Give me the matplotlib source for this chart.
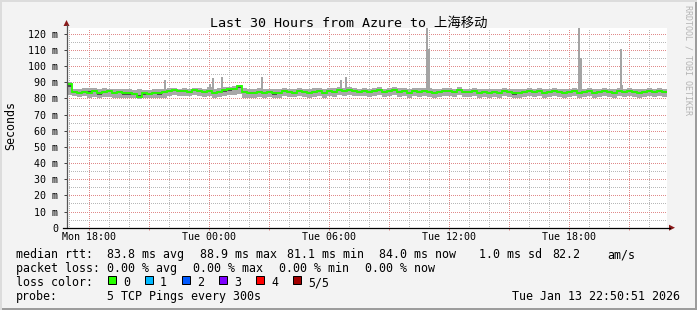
import numpy as np
import matplotlib.pyplot as plt
from matplotlib.patches import Rectangle, Polygon
from matplotlib.lines import Line2D

# time axis: hours since Mon 00:00, one bin = 15 min
start = 16.9
step_h = 0.25

# median rtt (ms) per 15 min bin
med = [88.9, 84.0, 83.5, 84.0, 83.5, 84.5, 83.0, 84.0, 84.5, 83.5, 84.0, 83.0,
       83.0, 82.5, 81.1, 83.0, 82.5, 83.5, 83.0, 84.0, 84.5, 85.0, 84.5, 84.5,
       84.0, 85.0, 84.5, 84.0, 84.5, 83.5, 84.0, 85.0, 85.5, 86.0, 87.5, 84.0,
       83.0, 83.5, 84.0, 83.5, 84.0, 83.0, 83.5, 84.5, 84.0, 83.5, 84.5, 84.0,
       83.5, 84.0, 84.5, 83.5, 84.5, 84.0, 85.0, 84.5, 85.0, 84.5, 84.0, 84.5,
       84.0, 84.5, 85.0, 84.0, 84.5, 85.0, 84.0, 84.5, 83.5, 84.5, 84.0, 84.5,
       84.0, 83.5, 84.0, 84.5, 84.5, 84.0, 85.0, 84.0, 84.0, 84.5, 83.5, 84.0,
       83.5, 84.0, 83.5, 84.5, 84.0, 83.0, 83.5, 84.0, 84.5, 84.0, 84.5, 83.5,
       84.0, 84.5, 84.0, 83.5, 84.0, 84.5, 83.5, 84.0, 84.5, 83.5, 84.0, 84.5,
       84.0, 83.5, 84.5, 84.0, 84.5, 84.0, 83.5, 84.0, 84.5, 84.0, 84.5, 84.0]

# smoke: lowest and highest ping per bin (ms)
lo = [82.0, 81.5, 81.0, 81.5, 80.5, 81.0, 80.0, 81.0, 81.0, 80.5, 80.5, 80.0,
      80.0, 80.0, 79.8, 80.0, 80.0, 80.5, 80.0, 80.5, 81.5, 82.0, 81.5, 81.5,
      81.5, 82.0, 81.5, 81.0, 81.5, 80.5, 81.0, 81.5, 82.0, 82.0, 82.5, 80.5,
      80.5, 80.5, 81.0, 80.5, 81.0, 80.0, 80.5, 81.5, 81.0, 81.0, 81.5, 81.0,
      80.5, 81.0, 81.5, 80.5, 81.5, 81.0, 82.0, 81.5, 82.0, 81.5, 81.5, 81.5,
      81.0, 81.5, 82.0, 81.0, 81.5, 82.0, 81.0, 81.5, 80.5, 81.5, 81.0, 81.5,
      81.0, 80.5, 81.0, 81.5, 81.5, 81.0, 82.0, 81.0, 81.0, 81.5, 80.5, 81.0,
      80.5, 81.0, 80.0, 81.5, 81.0, 80.0, 80.5, 81.0, 81.5, 81.0, 81.5, 80.5,
      81.0, 81.5, 81.0, 80.5, 81.0, 81.5, 80.5, 81.0, 81.5, 80.5, 81.0, 81.5,
      81.0, 80.5, 81.5, 81.0, 81.5, 81.0, 80.5, 81.0, 81.5, 81.0, 81.5, 81.0]
hi = [90.0, 86.0, 86.0, 86.5, 86.5, 86.5, 85.5, 86.5, 86.0, 86.0, 86.0, 85.5,
      85.5, 85.0, 85.5, 85.0, 85.0, 85.5, 85.5, 86.0, 86.5, 86.5, 86.0, 86.5,
      86.0, 86.5, 86.5, 86.0, 87.0, 86.0, 86.5, 87.0, 87.0, 87.5, 88.0, 86.5,
      85.5, 86.0, 86.5, 86.0, 86.0, 85.5, 86.0, 86.5, 86.0, 86.0, 86.5, 86.0,
      86.0, 86.5, 86.5, 85.5, 86.5, 86.5, 87.0, 86.5, 87.0, 86.5, 86.0, 86.5,
      86.0, 86.5, 87.0, 86.0, 86.5, 87.0, 86.5, 86.5, 86.0, 86.5, 86.5, 86.5,
      86.5, 86.0, 86.0, 86.5, 86.5, 86.0, 87.0, 86.0, 86.0, 86.5, 86.0, 86.0,
      85.5, 86.0, 86.0, 86.5, 86.0, 85.5, 86.0, 86.0, 86.5, 86.0, 86.5, 86.0,
      86.0, 86.5, 86.0, 85.5, 86.0, 86.5, 86.0, 86.0, 86.5, 86.0, 86.0, 86.5,
      86.0, 86.0, 86.5, 86.0, 86.5, 86.0, 86.0, 86.0, 86.5, 86.0, 86.5, 86.0]

# single samples where the slowest ping jumped up
spike_t = [21.8, 24.05, 24.2, 24.65, 26.65, 30.6, 30.85, 34.9, 35.0, 42.48, 42.58, 44.58, 44.66]
spike_top = [91.5, 89.0, 92.5, 93.0, 93.5, 91.5, 93.0, 125.0, 110.3, 125.0, 105.0, 110.5, 88.5]

tick_hours = [18, 24, 30, 36, 42]
tick_labels = ["Mon 18:00", "Tue 00:00", "Tue 06:00", "Tue 12:00", "Tue 18:00"]

loss_names = ["0", "1", "2", "3", "4", "5/5"]
loss_colors = ["#26ff00", "#00b8ff", "#0059ff", "#7e00ff", "#ff0000", "#a10000"]

W, H = 697, 310
MONO = "DejaVu Sans Mono"


def fx(x):
    return x / W


def fy(y):
    return 1 - y / H


med = np.array(med)
lo = np.array(lo)
hi = np.array(hi)
edges = start + step_h * np.arange(len(med) + 1)

fig = plt.figure(figsize=(W / 100, H / 100), dpi=100, facecolor="#f3f3f3")

# 3d frame round the picture
fig.add_artist(Rectangle((0, 0), 1, fy(308), transform=fig.transFigure, color="#9c9c9c", lw=0))
fig.add_artist(Rectangle((fx(695), 0), fx(2), 1, transform=fig.transFigure, color="#9c9c9c", lw=0))
fig.add_artist(Rectangle((0, fy(2)), 1, 2 / H, transform=fig.transFigure, color="#dcdcdc", lw=0))
fig.add_artist(Rectangle((0, 0), fx(2), 1, transform=fig.transFigure, color="#dcdcdc", lw=0))

ax = fig.add_axes([fx(67), fy(227.7), fx(600), (227.7 - 28) / H])
ax.set_facecolor("white")
ax.set_xlim(start, start + 30)
ax.set_ylim(0, 123.5)

# grid, 1px dots
dots = (0, (0.6, 1.4))
for h in np.arange(17, 47):
    major = h % 3 == 0
    ax.axvline(h, color="#e08a8a" if major else "#b8b8b8", lw=0.72,
               ls=dots, zorder=0.5, antialiased=False)
for v in np.arange(5, 125, 5):
    major = v % 10 == 0
    ax.axhline(v, color="#e08a8a" if major else "#b8b8b8", lw=0.72,
               ls=dots, zorder=0.5, antialiased=False)

# smoke
ax.stairs(hi, edges, baseline=lo, fill=True, color="#a8a8a8", lw=0, zorder=1)
ax.bar(spike_t, np.array(spike_top) - 84, bottom=84, width=0.1, align="center",
       color="#a4a4a4", lw=0, zorder=1)
ax.stairs(med + (hi - med) * 0.25, edges, baseline=med - (med - lo) * 0.25,
          fill=True, color="#505050", lw=0, zorder=2)
# median line coloured by loss (no loss here)
ax.stairs(med, edges, baseline=None, color=loss_colors[0], lw=1.35, zorder=3)

ax.set_yticks(np.arange(0, 121, 10))
ax.set_yticklabels(["0"] + ["%d m" % v for v in range(10, 121, 10)],
                   family=MONO, fontsize=7.2)
ax.set_xticks(np.arange(18, 46, 3))
ax.set_xticklabels([tick_labels[tick_hours.index(h)] if h in tick_hours else ""
                    for h in range(18, 46, 3)], family=MONO, fontsize=7.2)
ax.tick_params(axis="y", length=2.2, width=0.72, pad=4.3, color="#444444")
ax.tick_params(axis="x", length=1.5, width=0.72, pad=1.8, color="#e08a8a")
for s in ["top", "right", "left", "bottom"]:
    ax.spines[s].set_visible(False)

# axes with arrows
fig.add_artist(Line2D([fx(66.5), fx(66.5)], [fy(227.7), fy(25)], transform=fig.transFigure,
                      color="#555555", lw=0.9))
fig.add_artist(Line2D([fx(63), fx(670)], [fy(227.7), fy(227.7)], transform=fig.transFigure,
                      color="black", lw=0.9))
fig.add_artist(Polygon([[fx(63.5), fy(26)], [fx(69.5), fy(26)], [fx(66.5), fy(20)]],
                       closed=True, transform=fig.transFigure, color="#8b1a1a", lw=0))
fig.add_artist(Polygon([[fx(669), fy(224.7)], [fx(669), fy(230.7)], [fx(675), fy(227.7)]],
                       closed=True, transform=fig.transFigure, color="#8b1a1a", lw=0))

# title and side texts
fig.text(fx(348.5), fy(27.3), "Last 30 Hours from Azure to 上海移动",
         family=[MONO, "Noto Sans CJK SC"], fontsize=9.6, ha="center", va="baseline")
fig.text(fx(10.5), fy(126), "Seconds", family=MONO, fontsize=8.4, rotation=90,
         ha="center", va="center")
fig.text(fx(688), fy(60), "RRDTOOL / TOBI OETIKER", family=MONO, fontsize=6,
         rotation=270, ha="center", va="center", color="#b4b4b4")

# legend
legend_rows = [
    (258.3, [(16, "median rtt:"), (107, "83.8 ms avg"), (200, "88.9 ms max"),
             (287, "81.1 ms min"), (379, "84.0 ms now"), (479, "1.0 ms sd"),
             (552.5, "82.2"), (607.5, "am/s")]),
    (272.3, [(16, "packet loss:"), (107, "0.00 % avg"), (193.3, "0.00 % max"),
             (279.3, "0.00 % min"), (365, "0.00 % now")]),
    (286, [(16, "loss color:")]),
    (300, [(16, "probe:"), (107, "5 TCP Pings every 300s")]),
]
for base, items in legend_rows:
    for x, txt in items:
        fig.text(fx(x), fy(base), txt, family=MONO, fontsize=8.4, va="baseline")

for i, (name, col) in enumerate(zip(loss_names, loss_colors)):
    bx = 108.3 + 37 * i
    fig.add_artist(Rectangle((fx(bx), fy(284)), fx(8), 8 / H, transform=fig.transFigure,
                             facecolor=col, edgecolor="black", lw=0.72))
    fig.text(fx(bx + 14.7), fy(286), name, family=MONO, fontsize=8.4, va="baseline")

fig.text(fx(680), fy(300), "Tue Jan 13 22:50:51 2026", family=MONO, fontsize=8.4,
         ha="right", va="baseline")

fig.savefig("out.png", dpi=100, facecolor=fig.get_facecolor())
